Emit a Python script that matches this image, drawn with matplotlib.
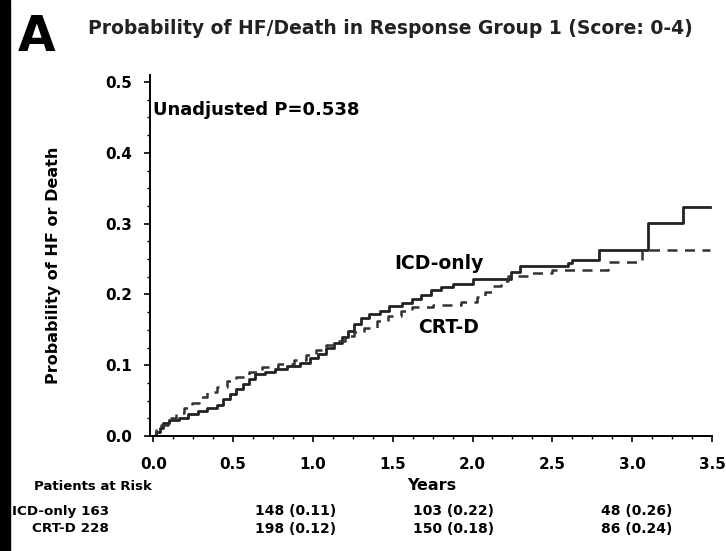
import matplotlib
matplotlib.use("Agg")
import matplotlib.pyplot as plt
from matplotlib.patches import Rectangle
from matplotlib.ticker import MultipleLocator
import matplotlib.transforms as mtransforms

plt.rcParams['font.family'] = ['DejaVu Sans']
plt.rcParams['font.weight'] = 'bold'

# Cumulative probability of HF or death (step estimates)
icd_time = [0.0, 0.02, 0.04, 0.06, 0.10, 0.16, 0.22, 0.28, 0.34, 0.40, 0.44, 0.48,
            0.52, 0.56, 0.60, 0.64, 0.70, 0.76, 0.84, 0.92, 0.98, 1.03, 1.08, 1.13,
            1.18, 1.22, 1.26, 1.30, 1.35, 1.42, 1.48, 1.56, 1.62, 1.68, 1.74, 1.80,
            1.88, 2.00, 2.24, 2.30, 2.60, 2.62, 2.79, 3.10, 3.32, 3.49]
icd_prob = [0.0, 0.006, 0.012, 0.018, 0.022, 0.026, 0.031, 0.035, 0.039, 0.044, 0.052, 0.059,
            0.066, 0.073, 0.080, 0.087, 0.091, 0.095, 0.099, 0.103, 0.110, 0.116, 0.124, 0.132,
            0.140, 0.149, 0.158, 0.166, 0.172, 0.177, 0.183, 0.188, 0.194, 0.199, 0.206, 0.211,
            0.215, 0.222, 0.232, 0.240, 0.244, 0.249, 0.263, 0.301, 0.323, 0.323]

crt_time = [0.0, 0.02, 0.05, 0.09, 0.14, 0.19, 0.24, 0.29, 0.34, 0.40, 0.46, 0.52,
            0.60, 0.68, 0.78, 0.88, 0.96, 1.02, 1.08, 1.14, 1.20, 1.26, 1.32, 1.40,
            1.47, 1.55, 1.62, 1.75, 1.93, 2.03, 2.08, 2.13, 2.18, 2.22, 2.35, 2.50,
            2.85, 3.06, 3.49]
crt_prob = [0.0, 0.008, 0.016, 0.025, 0.032, 0.040, 0.047, 0.055, 0.062, 0.069, 0.077, 0.084,
            0.090, 0.097, 0.102, 0.107, 0.114, 0.122, 0.128, 0.134, 0.141, 0.147, 0.153, 0.162,
            0.170, 0.177, 0.182, 0.185, 0.189, 0.196, 0.204, 0.212, 0.219, 0.226, 0.230, 0.234,
            0.246, 0.263, 0.263]

# Numbers at risk (cumulative probability) table
risk_groups = ["ICD-only 163", "CRT-D 228"]
risk_years = [1.0, 2.0, 3.0]
risk_icd = ["148 (0.11)", "103 (0.22)", "48 (0.26)"]
risk_crt = ["198 (0.12)", "150 (0.18)", "86 (0.24)"]

xticks = [0.0, 0.5, 1.0, 1.5, 2.0, 2.5, 3.0, 3.5]
yticks = [0.0, 0.1, 0.2, 0.3, 0.4, 0.5]

W, H = 726, 551
fig = plt.figure(figsize=(W / 100, H / 100), dpi=100)
fig.patches.append(Rectangle((0, 0), 10 / W, 1, transform=fig.transFigure,
                             color='black', zorder=0))

ax_l, ax_r, ax_b, ax_t = 150, 712, 436, 75
ax = fig.add_axes([ax_l / W, 1 - ax_b / H, (ax_r - ax_l) / W, (ax_b - ax_t) / H])

ax.step(icd_time, icd_prob, where='post', color='#222222', lw=2.0)
ax.step(crt_time, crt_prob, where='post', color='#333333', lw=1.8,
        linestyle=(0, (4, 3)))

ax.set_xlim(-0.02, 3.5)
ax.set_ylim(0, 0.51)
ax.set_xticks(xticks)
ax.set_xticklabels([f"{v:.1f}" for v in xticks])
ax.set_yticks(yticks)
ax.set_yticklabels([f"{v:.1f}" for v in yticks])
ax.xaxis.set_minor_locator(MultipleLocator(0.125))
ax.yaxis.set_minor_locator(MultipleLocator(0.025))
ax.tick_params(axis='x', which='major', length=4, width=1.2, labelsize=11, pad=11)
ax.tick_params(axis='y', which='major', length=4, width=1.2, labelsize=11, pad=9)
ax.tick_params(axis='both', which='minor', length=2.5, width=1.0)
for lab in ax.get_xticklabels() + ax.get_yticklabels():
    lab.set_fontweight('bold')
for s in ['top', 'right']:
    ax.spines[s].set_visible(False)
for s in ['left', 'bottom']:
    ax.spines[s].set_linewidth(1.4)

fig.text(54 / W, 1 - 265 / H, "Probability of HF or Death", fontsize=11.5,
         fontweight='bold', rotation=90, ha='center', va='center')

ax.text(0.0, 0.46, "Unadjusted P=0.538", fontsize=13, fontweight='bold',
        ha='left', va='center')
ax.text(1.51, 0.243, "ICD-only", fontsize=13.5, fontweight='bold', ha='left', va='center')
ax.text(1.66, 0.153, "CRT-D", fontsize=13.5, fontweight='bold', ha='left', va='center')

fig.text(37 / W, 1 - 37 / H, "A", fontsize=35, fontweight='bold', ha='center', va='center')
fig.text(88 / W, 1 - 28 / H, "Probability of HF/Death in Response Group 1 (Score: 0-4)",
         fontsize=13.5, fontweight='bold', ha='left', va='center', color='#222222')

fig.text(93 / W, 1 - 486 / H, "Patients at Risk", fontsize=9.5, fontweight='bold',
         ha='center', va='center')
fig.text(432 / W, 1 - 486 / H, "Years", fontsize=11.5, fontweight='bold',
         ha='center', va='center')

trans = mtransforms.blended_transform_factory(ax.transData, fig.transFigure)
row_y = [1 - 511 / H, 1 - 529 / H]
for name, yy in zip(risk_groups, row_y):
    fig.text(109 / W, yy, name, fontsize=9.7, fontweight='bold', ha='right', va='center')
offsets = [-0.11, -0.12, 0.03]
for row, yy in zip([risk_icd, risk_crt], row_y):
    for yr, off, txt in zip(risk_years, offsets, row):
        ax.text(yr + off, yy, txt, transform=trans, fontsize=10, fontweight='bold',
                ha='center', va='center', clip_on=False)

fig.savefig("out.png", dpi=100)
